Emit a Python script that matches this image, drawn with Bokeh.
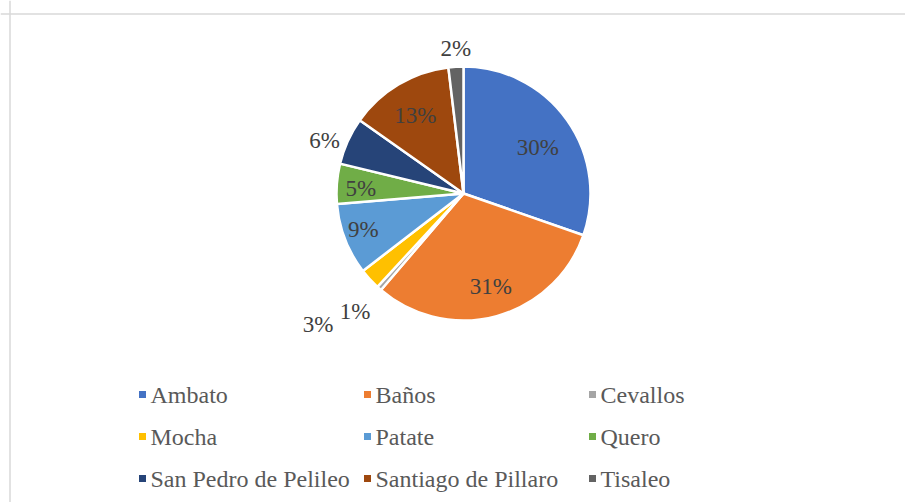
import math
from bokeh.plotting import figure
from bokeh.models import Range1d, Span, ColumnDataSource
from bokeh.core.properties import value
from bokeh.embed import file_html
from bokeh.resources import INLINE

# ---- data ----
municipios = ["Ambato", "Baños", "Cevallos", "Mocha", "Patate", "Quero",
              "San Pedro de Pelileo", "Santiago de Pillaro", "Tisaleo"]
porcentajes = [30.3, 30.9, 0.6, 2.7, 9.1, 5.1, 6.0, 13.3, 1.9]
colores = ["#4472C4", "#ED7D31", "#A5A5A5", "#FFC000", "#5B9BD5", "#70AD47",
           "#264478", "#9E480E", "#636363"]

# ---- style / layout ----
W, H = 905, 502
CX, CY, R = 463, H - 193, 127
label_r = [0.69, 0.76, 1.26, 1.54, 0.84, 0.81, 1.17, 0.72, 1.14]
label_da = [-3.5, 1.3, -1.0, -0.5, -1.2, 1.4, 3.5, 1.0, -0.4]
FONT = "Liberation Serif"

p = figure(width=W, height=H, output_backend="svg", toolbar_location=None,
           x_range=Range1d(0, W), y_range=Range1d(0, H))
p.axis.visible = False
p.grid.visible = False
p.min_border = 0
p.min_border_left = 0
p.min_border_right = 0
p.min_border_top = 0
p.min_border_bottom = 0
p.outline_line_color = None
p.background_fill_color = "white"
p.border_fill_color = "white"

total = sum(porcentajes)
starts, ends, lx, ly, txt = [], [], [], [], []
cum = 0.0
for i, v in enumerate(porcentajes):
    a0 = math.pi / 2 - 2 * math.pi * cum / total
    cum += v
    a1 = math.pi / 2 - 2 * math.pi * cum / total
    starts.append(a1)
    ends.append(a0)
    mid = (a0 + a1) / 2 + math.radians(label_da[i])
    lx.append(CX + R * label_r[i] * math.cos(mid))
    ly.append(CY + R * label_r[i] * math.sin(mid))
    txt.append(f"{round(100 * v / total)}%")

src = ColumnDataSource(dict(start=starts, end=ends, color=colores,
                            lx=lx, ly=ly, txt=txt))
p.wedge(x=CX, y=CY, radius=R, start_angle="start", end_angle="end",
        fill_color="color", line_color="white", line_width=2.5, source=src)
p.text(x="lx", y="ly", text="txt", source=src, text_font=value(FONT),
       text_font_size="23px", text_color="#404040", text_align="center",
       text_baseline="middle")

# ---- legend ----
LX0, LY0, DX, DY = 142, H - 394, 225, 42
mx = [LX0 + (i % 3) * DX for i in range(len(municipios))]
my = [LY0 - (i // 3) * DY for i in range(len(municipios))]
lsrc = ColumnDataSource(dict(x=mx, y=my, tx=[x + 8 for x in mx],
                             name=municipios, color=colores))
p.scatter(x="x", y="y", marker="square", size=7, fill_color="color",
          line_color=None, source=lsrc)
p.text(x="tx", y="y", text="name", source=lsrc, text_font=value(FONT),
       text_font_size="24px", text_color="#595959", text_align="left",
       text_baseline="middle")

# ---- chart border ----
p.add_layout(Span(location=H - 13.5, dimension="width", line_color="#D9D9D9",
                  line_width=1.5))
p.add_layout(Span(location=9.5, dimension="height", line_color="#D9D9D9",
                  line_width=1.5))

open("out.html", "w").write(file_html(p, INLINE))
